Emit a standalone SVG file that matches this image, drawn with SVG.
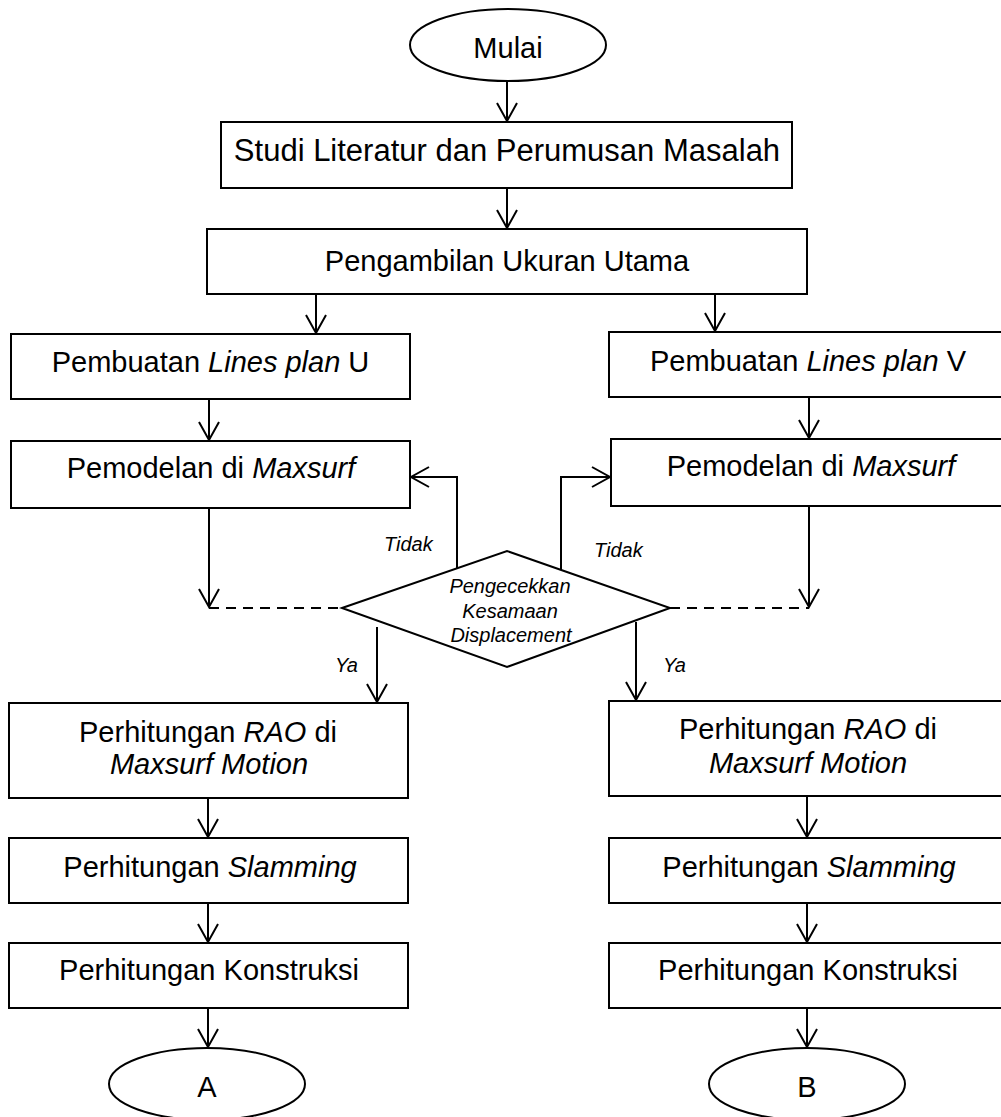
<svg xmlns="http://www.w3.org/2000/svg" width="1001" height="1117" viewBox="0 0 1001 1117">
<style>
.box{fill:#fff;stroke:#000;stroke-width:2}
.t{font-family:"Liberation Sans",Arial,sans-serif;font-size:29px;fill:#000;text-anchor:middle}
.s{font-family:"Liberation Sans",Arial,sans-serif;font-size:20px;font-style:italic;fill:#000}
.i{font-style:italic}
.c{fill:none;stroke:#000;stroke-width:2}
.d{fill:none;stroke:#000;stroke-width:2;stroke-dasharray:10 7}
</style>
<defs>
<marker id="ah" markerUnits="userSpaceOnUse" markerWidth="24" markerHeight="24" refX="0" refY="0" viewBox="-20 -12 24 24" orient="auto" overflow="visible">
<path d="M-18,-10 L0,0 L-18,10" fill="none" stroke="#000" stroke-width="2"/>
</marker>
</defs>
<rect width="1001" height="1117" fill="#fff"/>
<g id="connectors">
<path class="c" d="M507,81 V121" marker-end="url(#ah)"/>
<path class="c" d="M507,188 V228" marker-end="url(#ah)"/>
<path class="c" d="M316,294 V333" marker-end="url(#ah)"/>
<path class="c" d="M715,294 V331" marker-end="url(#ah)"/>
<path class="c" d="M209,399 V440" marker-end="url(#ah)"/>
<path class="c" d="M809,397 V438" marker-end="url(#ah)"/>
<path class="c" d="M209,508 V607" marker-end="url(#ah)"/>
<path class="c" d="M809,506 V607" marker-end="url(#ah)"/>
<path class="d" d="M209,608 H342"/>
<path class="d" d="M670,608 H809"/>
<path class="c" d="M457,568 V477 H411" marker-end="url(#ah)"/>
<path class="c" d="M561,570 V477 H610" marker-end="url(#ah)"/>
<path class="c" d="M377,627 V702" marker-end="url(#ah)"/>
<path class="c" d="M636,622 V700" marker-end="url(#ah)"/>
<path class="c" d="M208,798 V837" marker-end="url(#ah)"/>
<path class="c" d="M807,796 V837" marker-end="url(#ah)"/>
<path class="c" d="M208,903 V942" marker-end="url(#ah)"/>
<path class="c" d="M807,903 V942" marker-end="url(#ah)"/>
<path class="c" d="M208,1008 V1047" marker-end="url(#ah)"/>
<path class="c" d="M807,1008 V1047" marker-end="url(#ah)"/>
<text class="s" x="384" y="551">Tidak</text>
<text class="s" x="594" y="557">Tidak</text>
<text class="s" x="335" y="672">Ya</text>
<text class="s" x="663" y="672">Ya</text>
</g>
<g id="mulai">
<ellipse class="box" cx="508" cy="45" rx="98" ry="36"/>
<text class="t" x="508" y="58">Mulai</text>
</g>
<g id="studi">
<rect class="box" x="221" y="122" width="571" height="66"/>
<text class="t" x="507" y="161" style="font-size:31px">Studi Literatur dan Perumusan Masalah</text>
</g>
<g id="pengambilan">
<rect class="box" x="207" y="229" width="600" height="65"/>
<text class="t" x="507" y="271">Pengambilan Ukuran Utama</text>
</g>
<g id="linesU">
<rect class="box" x="11" y="334" width="399" height="65"/>
<text class="t" x="210.5" y="372">Pembuatan <tspan class="i">Lines plan</tspan> U</text>
</g>
<g id="linesV">
<rect class="box" x="609" y="332" width="401" height="65"/>
<text class="t" x="808" y="371">Pembuatan <tspan class="i">Lines plan</tspan> V</text>
</g>
<g id="modelU">
<rect class="box" x="11" y="441" width="399" height="67"/>
<text class="t" x="211" y="478">Pemodelan di <tspan class="i">Maxsurf</tspan></text>
</g>
<g id="modelV">
<rect class="box" x="611" y="439" width="399" height="67"/>
<text class="t" x="811" y="476">Pemodelan di <tspan class="i">Maxsurf</tspan></text>
</g>
<g id="cek">
<polygon class="box" points="342,608 507,551 670,608 507,667"/>
<text class="s" text-anchor="middle" x="510" y="593">Pengecekkan</text>
<text class="s" text-anchor="middle" x="510" y="618">Kesamaan</text>
<text class="s" text-anchor="middle" x="511" y="642">Displacement</text>
</g>
<g id="raoU">
<rect class="box" x="9" y="703" width="399" height="95"/>
<text class="t" x="208" y="742">Perhitungan <tspan class="i">RAO</tspan> di</text>
<text class="t i" x="209" y="774">Maxsurf Motion</text>
</g>
<g id="raoV">
<rect class="box" x="609" y="701" width="401" height="95"/>
<text class="t" x="808" y="739">Perhitungan <tspan class="i">RAO</tspan> di</text>
<text class="t i" x="808" y="773">Maxsurf Motion</text>
</g>
<g id="slamU">
<rect class="box" x="9" y="838" width="399" height="65"/>
<text class="t" x="210" y="877">Perhitungan <tspan class="i">Slamming</tspan></text>
</g>
<g id="slamV">
<rect class="box" x="609" y="838" width="401" height="65"/>
<text class="t" x="809" y="877">Perhitungan <tspan class="i">Slamming</tspan></text>
</g>
<g id="konU">
<rect class="box" x="9" y="943" width="399" height="65"/>
<text class="t" x="209" y="980">Perhitungan Konstruksi</text>
</g>
<g id="konV">
<rect class="box" x="609" y="943" width="401" height="65"/>
<text class="t" x="808" y="980">Perhitungan Konstruksi</text>
</g>
<g id="A">
<ellipse class="box" cx="207" cy="1084" rx="98" ry="36"/>
<text class="t" x="207" y="1097">A</text>
</g>
<g id="B">
<ellipse class="box" cx="807" cy="1084" rx="98" ry="36"/>
<text class="t" x="807" y="1097">B</text>
</g>
</svg>
